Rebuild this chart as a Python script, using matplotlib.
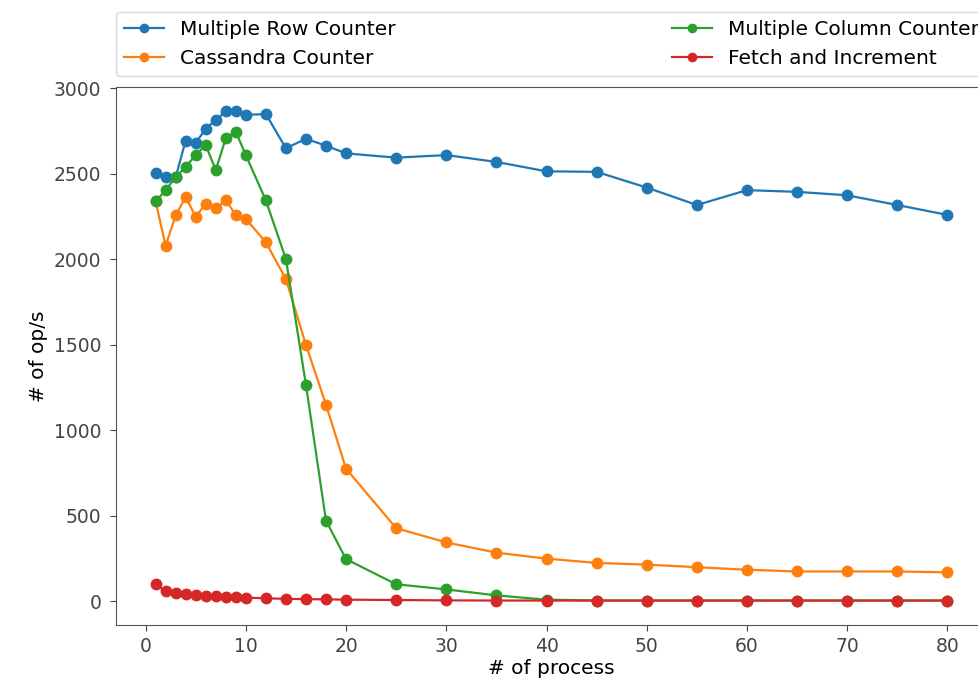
"""Counter throughput vs number of processes."""
import matplotlib
matplotlib.use("Agg")
import matplotlib.pyplot as plt

plt.rcParams.update({"font.size": 14.5, "xtick.labelsize": 13.5, "ytick.labelsize": 13.5})

# x values (number of processes)
x_dense = [1, 2, 3, 4, 5, 6, 7, 8, 9, 10, 12, 14, 16, 18, 20,
           25, 30, 35, 40, 45, 50, 55, 60, 65, 70, 75, 80]

row_counter = [2505, 2480, 2480, 2695, 2680, 2765, 2815, 2865, 2865, 2845, 2850, 2650, 2705, 2665, 2620,
               2595, 2610, 2570, 2515, 2512, 2420, 2318, 2405, 2395, 2375, 2318, 2260]
cassandra = [2340, 2080, 2257, 2365, 2250, 2325, 2298, 2345, 2260, 2237, 2100, 1885, 1500, 1150, 776,
             428, 345, 285, 250, 225, 215, 200, 185, 175, 175, 175, 170]
column_counter = [2340, 2404, 2482, 2541, 2610, 2669, 2522, 2708, 2747, 2610, 2345, 2002, 1267, 472, 247,
                  100, 70, 35, 10, 5, 5, 5, 5, 5, 5, 5, 5]
fetch_incr = [100, 58, 48, 42, 38, 34, 30, 27, 25, 22, 18, 15, 13, 12, 10,
              8, 6, 5, 5, 5, 5, 5, 5, 5, 5, 5, 5]

SERIES = [
    ("Multiple Row Counter", row_counter, "#1f77b4"),
    ("Cassandra Counter", cassandra, "#ff7f0e"),
    ("Multiple Column Counter", column_counter, "#2ca02c"),
    ("Fetch and Increment", fetch_incr, "#d62728"),
]


def main():
    fig = plt.figure(figsize=(9.79, 6.82), dpi=100)
    ax = fig.add_axes([0.1185, 0.0836, 0.8897, 0.7888])
    for label, ys, color in SERIES:
        ax.plot(x_dense, ys, "o-", color=color, lw=1.6, ms=7.5, label=label)
    ax.set_xlabel("# of process", labelpad=2)
    ax.set_ylabel("# of op/s")
    ax.set_xticks(range(0, 81, 10))
    ax.set_yticks(range(0, 3001, 500))
    ax.tick_params(length=4.5, colors="#444444")
    ax.tick_params(axis="x", pad=4)
    ax.tick_params(axis="y", pad=6)
    for s in ax.spines.values():
        s.set_color("#555555")
    # legend spread across the top, two columns (order: col 1 then col 2)
    ax.legend(bbox_to_anchor=(0., 1.02, 1., .102), loc="lower left", ncol=2,
              mode="expand", borderaxespad=0., markerscale=0.8)
    fig.savefig("out.png", dpi=100)


if __name__ == "__main__":
    main()
